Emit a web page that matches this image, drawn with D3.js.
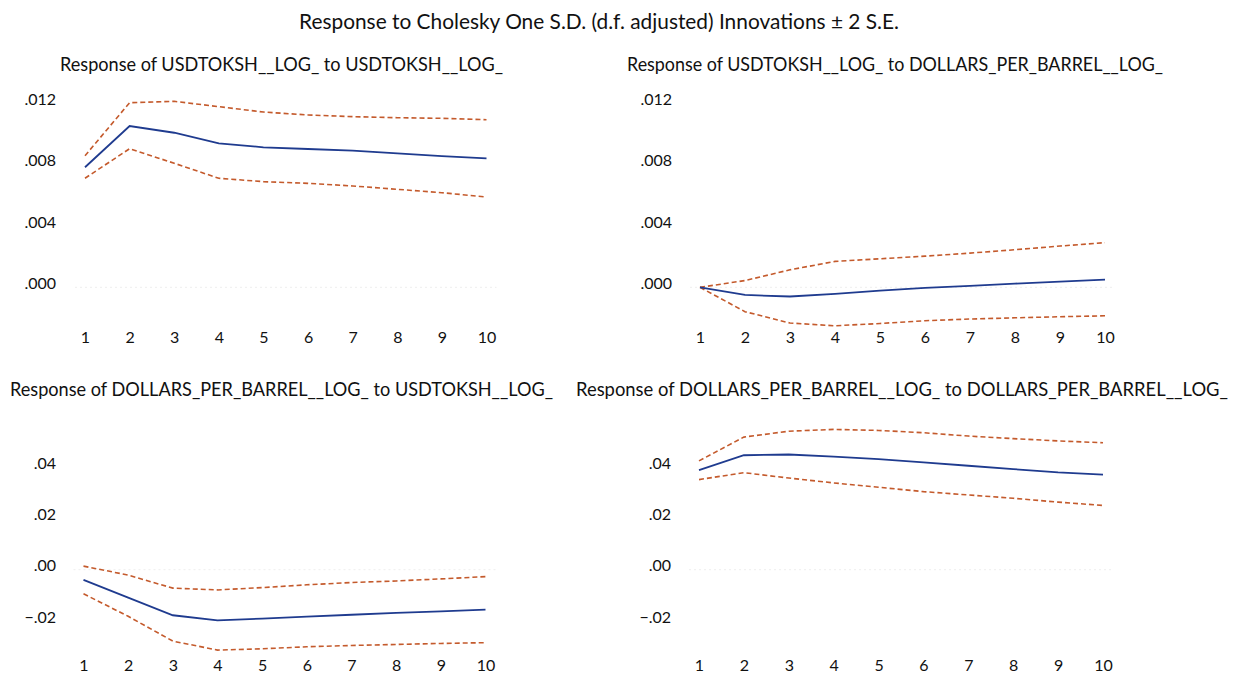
<!DOCTYPE html>
<html>
<head>
<meta charset="utf-8">
<script src="https://cdn.jsdelivr.net/npm/d3@7"></script>
<style>
    body { margin: 0; background: #fff; }
    svg { font-family: Lato, "Open Sans", sans-serif; }
</style>
</head>
<body>
<svg id="chart" width="1239" height="674"></svg>
<script>
// periods (horizon)
var periods = [1, 2, 3, 4, 5, 6, 7, 8, 9, 10];

// tick labels
var topTicks = [0, 0.004, 0.008, 0.012];
var bottomTicks = [-0.02, 0, 0.02, 0.04];

// Response of USDTOKSH__LOG_ to USDTOKSH__LOG_
var usdUsdMean  = [.00783, .01052, .01008, .00939, .00913, .00902, .00891, .00874, .00856, .00841];
var usdUsdUpper = [.00858, .01204, .01213, .01178, .01143, .01124, .01113, .01106, .01102, .01093];
var usdUsdLower = [.00711, .00904, .00809, .00711, .00689, .00678, .00661, .00639, .00617, .00589];

// Response of USDTOKSH__LOG_ to DOLLARS_PER_BARREL__LOG_
var usdOilMean  = [0, -.0005, -.0006, -.00043, -.00022, -.00004, .00009, .00024, .00037, .0005];
var usdOilUpper = [0, .00044, .00114, .00169, .00186, .00203, .00223, .00245, .00269, .00291];
var usdOilLower = [0, -.00159, -.00233, -.00251, -.00236, -.00218, -.00207, -.00199, -.00192, -.00186];

// Response of DOLLARS_PER_BARREL__LOG_ to USDTOKSH__LOG_
var oilUsdMean  = [-.004, -.0109, -.0178, -.0198, -.0191, -.0183, -.0176, -.0169, -.0163, -.0156];
var oilUsdUpper = [.0014, -.0021, -.0072, -.0079, -.007, -.0059, -.005, -.0044, -.0036, -.0027];
var oilUsdLower = [-.0094, -.0182, -.0279, -.0314, -.0309, -.0301, -.0296, -.0292, -.0288, -.0285];

// Response of DOLLARS_PER_BARREL__LOG_ to DOLLARS_PER_BARREL__LOG_
var oilOilMean  = [.0389, .0447, .045, .0442, .0432, .0419, .0406, .0393, .038, .0371];
var oilOilUpper = [.0425, .0518, .0541, .0548, .0544, .0535, .0522, .0512, .0503, .0496];
var oilOilLower = [.0352, .0379, .0358, .0339, .0322, .0305, .0292, .0279, .0264, .0251];

var svg = d3.select("#chart");

// Title
svg.append("text")
    .attr("x", 599)
    .attr("y", 22)
    .attr("dy", "0.35em")
    .attr("text-anchor", "middle")
    .attr("font-size", 20.5)
    .attr("fill", "#111")
    .attr("textLength", 600)
    .attr("lengthAdjust", "spacingAndGlyphs")
    .text("Response to Cholesky One S.D. (d.f. adjusted) Innovations \u00b1 2 S.E.");

var panels = [
    { title: "Response of USDTOKSH__LOG_ to USDTOKSH__LOG_", tx: 60, ty: 65, tw: 443,
      x0: 85, x1: 486.5, yZero: 287.3, yTop: 103.3, dom: [0, 0.012], ticks: topTicks, fmt: 3,
      labelX: 56, xLabY: 339, mean: usdUsdMean, upper: usdUsdUpper, lower: usdUsdLower },
    { title: "Response of USDTOKSH__LOG_ to DOLLARS_PER_BARREL__LOG_", tx: 627, ty: 65, tw: 536,
      x0: 700, x1: 1105, yZero: 287.3, yTop: 103.3, dom: [0, 0.012], ticks: topTicks, fmt: 3,
      labelX: 672, xLabY: 339, mean: usdOilMean, upper: usdOilUpper, lower: usdOilLower },
    { title: "Response of DOLLARS_PER_BARREL__LOG_ to USDTOKSH__LOG_", tx: 10, ty: 390, tw: 543,
      x0: 83.5, x1: 485.5, yZero: 569.7, yTop: 467.3, dom: [0, 0.04], ticks: bottomTicks, fmt: 2,
      labelX: 56, xLabY: 667, mean: oilUsdMean, upper: oilUsdUpper, lower: oilUsdLower },
    { title: "Response of DOLLARS_PER_BARREL__LOG_ to DOLLARS_PER_BARREL__LOG_", tx: 576, ty: 390, tw: 652,
      x0: 699, x1: 1103, yZero: 569.7, yTop: 467.3, dom: [0, 0.04], ticks: bottomTicks, fmt: 2,
      labelX: 671, xLabY: 667, mean: oilOilMean, upper: oilOilUpper, lower: oilOilLower }
];

panels.forEach(function(p) {
    var x = d3.scaleLinear().domain([1, 10]).range([p.x0, p.x1]);
    var y = d3.scaleLinear().domain(p.dom).range([p.yZero, p.yTop]);
    var g = svg.append("g");

    g.append("text")
        .attr("x", p.tx)
        .attr("y", p.ty)
        .attr("dy", "0.35em")
        .attr("font-size", 18.5)
        .attr("fill", "#111")
        .attr("textLength", p.tw)
        .attr("lengthAdjust", "spacingAndGlyphs")
        .text(p.title);

    // faint zero line
    g.append("line")
        .attr("x1", x(1) - 10).attr("x2", x(10) + 10)
        .attr("y1", y(0)).attr("y2", y(0))
        .attr("stroke", "#eeeeee")
        .attr("stroke-dasharray", "2,3");

    // y axis (labels only)
    var yAxis = d3.axisLeft(y)
        .tickValues(p.ticks)
        .tickSize(0)
        .tickFormat(function(d) {
            return d3.format("." + p.fmt + "f")(d).replace("0.", ".");
        });
    var ya = g.append("g")
        .attr("transform", "translate(" + p.labelX + ",-4)")
        .call(yAxis)
        .attr("font-size", 16)
        .attr("font-family", "Lato, 'Open Sans', sans-serif");
    ya.select(".domain").remove();
    ya.selectAll("text").attr("x", 0).attr("fill", "#111");

    // x axis (labels only)
    var xAxis = d3.axisBottom(x).tickValues(periods).tickSize(0).tickFormat(d3.format("d"));
    var xa = g.append("g")
        .attr("transform", "translate(0," + (p.xLabY - 10) + ")")
        .call(xAxis)
        .attr("font-size", 16)
        .attr("font-family", "Lato, 'Open Sans', sans-serif");
    xa.select(".domain").remove();
    xa.selectAll("text").attr("fill", "#111");

    var line = d3.line()
        .x(function(d, i) { return x(periods[i]); })
        .y(function(d) { return y(d); });

    g.append("path")
        .attr("d", line(p.upper))
        .attr("fill", "none")
        .attr("stroke", "#c45a2c")
        .attr("stroke-width", 1.6)
        .attr("stroke-dasharray", "5,3");
    g.append("path")
        .attr("d", line(p.lower))
        .attr("fill", "none")
        .attr("stroke", "#c45a2c")
        .attr("stroke-width", 1.6)
        .attr("stroke-dasharray", "5,3");
    g.append("path")
        .attr("d", line(p.mean))
        .attr("fill", "none")
        .attr("stroke", "#1f3b8f")
        .attr("stroke-width", 1.8);
});
</script>
</body>
</html>
